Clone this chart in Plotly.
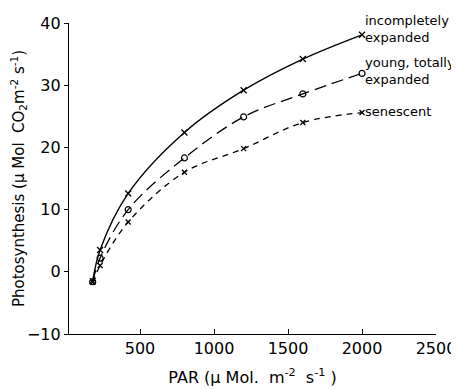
import plotly.graph_objects as go

# Data
par = [180, 230, 420, 800, 1200, 1600, 2000]
incompletely = [-1.5, 3.5, 12.6, 22.4, 29.2, 34.2, 38.1]
young = [-1.6, 2.2, 10.0, 18.3, 24.9, 28.6, 31.9]
senescent = [-1.7, 1.0, 8.0, 16.0, 19.8, 24.0, 25.6]

x_ticks = [500, 1000, 1500, 2000, 2500]
y_ticks = [-10, 0, 10, 20, 30, 40]

font = "DejaVu Sans"
fig = go.Figure()

fig.add_trace(go.Scatter(x=par, y=incompletely, mode="lines+markers",
                         line=dict(color="black", width=1.4, shape="spline", dash="solid"),
                         marker=dict(symbol="x-thin", size=6, line=dict(color="black", width=1.3))))
fig.add_trace(go.Scatter(x=par, y=young, mode="lines+markers",
                         line=dict(color="black", width=1.3, shape="spline", dash="12px,6px"),
                         marker=dict(symbol="circle-open", size=6, color="black", line=dict(width=1.2))))
fig.add_trace(go.Scatter(x=par, y=senescent, mode="lines+markers",
                         line=dict(color="black", width=1.3, shape="spline", dash="6px,5px"),
                         marker=dict(symbol="x-thin", size=5, line=dict(color="black", width=1.3))))

ann_font = dict(family=font, size=13, color="black")
fig.add_annotation(x=2000, y=39.0, text="incompletely<br>expanded", showarrow=False,
                   xanchor="left", yanchor="middle", xshift=1, align="left", font=ann_font)
fig.add_annotation(x=2000, y=32.3, text="young, totally<br>expanded", showarrow=False,
                   xanchor="left", yanchor="middle", xshift=1, align="left", font=ann_font)
fig.add_annotation(x=2000, y=25.8, text="senescent", showarrow=False,
                   xanchor="left", yanchor="middle", xshift=1, align="left", font=ann_font)

fig.update_layout(
    width=459, height=390,
    margin=dict(l=61, r=31, t=15, b=64, autoexpand=False),
    paper_bgcolor="white", plot_bgcolor="white",
    showlegend=False,
    font=dict(family=font, size=15, color="black"),
)
fig.update_xaxes(range=[20, 2500], tickvals=x_ticks, ticks="inside", ticklen=5,
                 tickcolor="black", showline=True, linecolor="black", linewidth=1.3,
                 showgrid=False, zeroline=False, tickfont=dict(size=16), automargin=False,
                 title=dict(text="PAR (μ Mol.  m<sup>-2</sup>  s<sup>-1</sup> )", standoff=14,
                            font=dict(size=16)))
fig.update_yaxes(range=[-10, 40], tickvals=y_ticks, ticks="outside", ticklen=4,
                 tickcolor="black", showline=True, linecolor="black", linewidth=1.3,
                 showgrid=False, zeroline=False, tickfont=dict(size=16), automargin=False,
                 title=dict(text="Photosynthesis (μ Mol  CO<sub>2</sub>m<sup>-2</sup> s<sup>-1</sup>)",
                            standoff=4, font=dict(size=15)))

fig.write_html("out.html")
